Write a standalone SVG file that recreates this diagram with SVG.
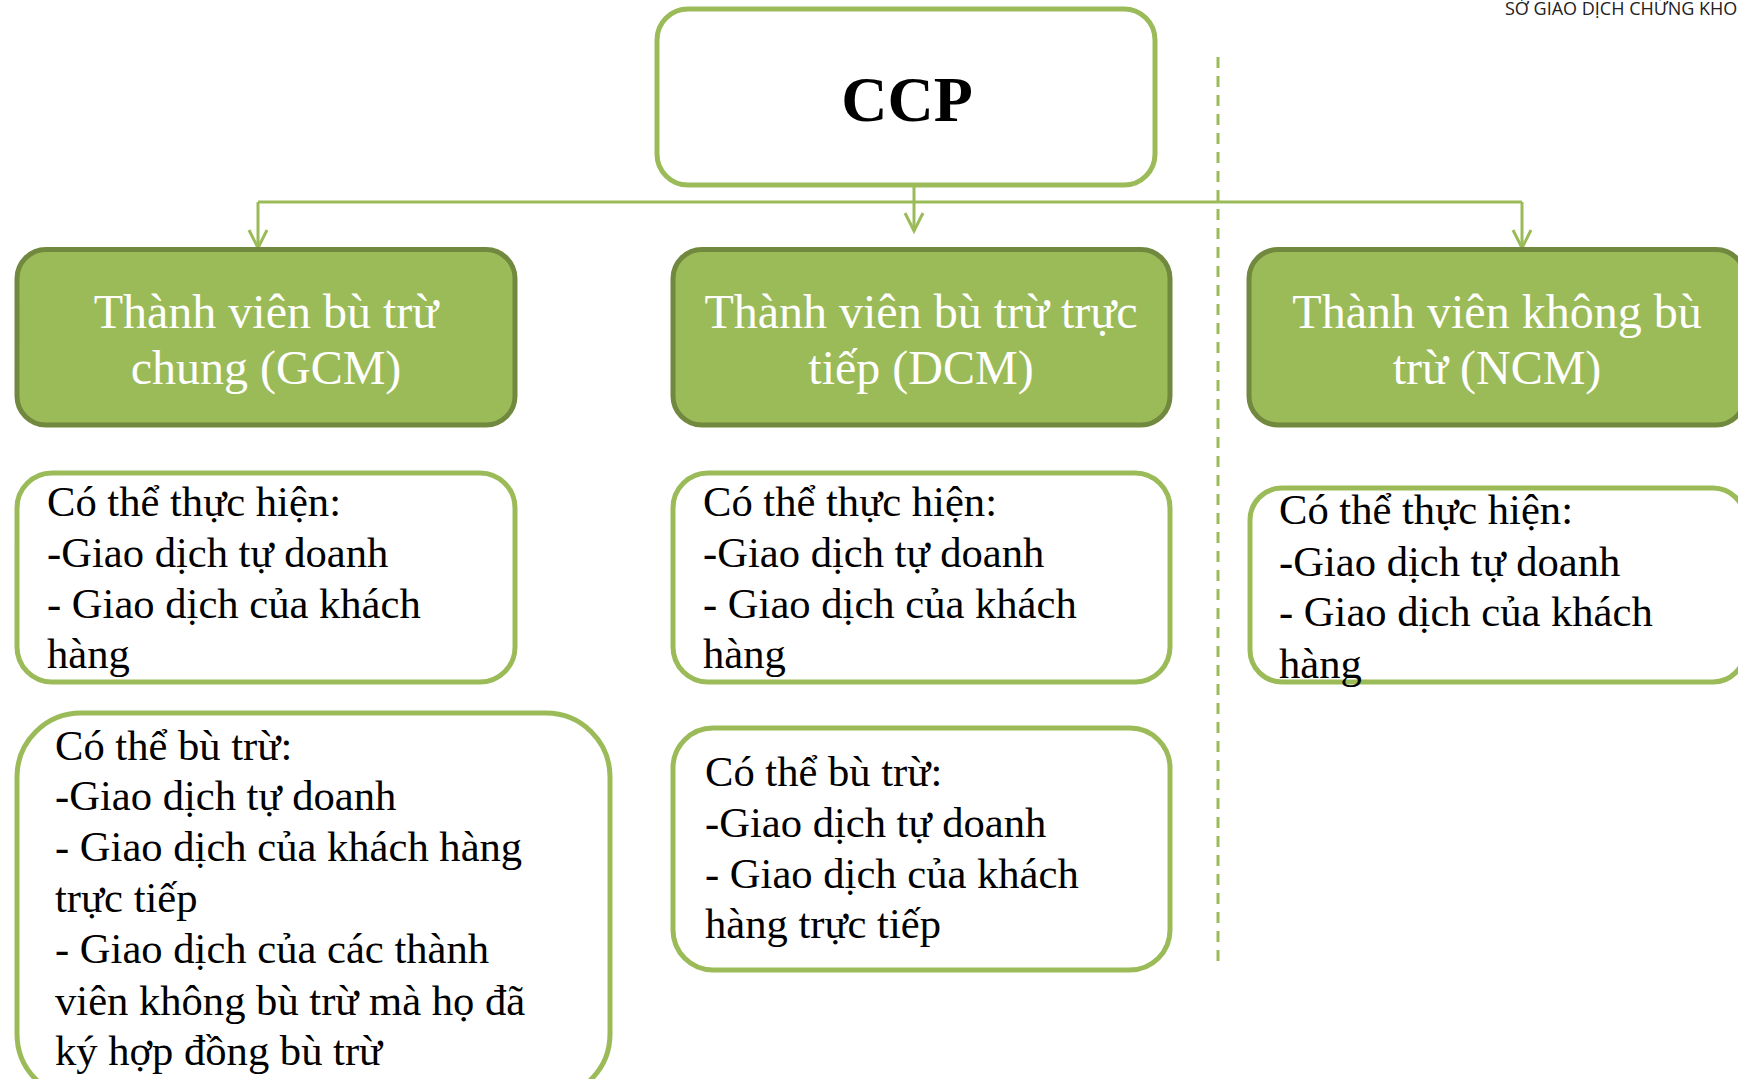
<svg xmlns="http://www.w3.org/2000/svg" width="1738" height="1079" viewBox="0 0 1738 1079">
<style>
  .top { fill: #ffffff; stroke: #9BBB59; stroke-width: 5; }
  .mem { fill: #9BBB59; stroke: #71893F; stroke-width: 5; }
  .info { fill: #ffffff; stroke: #9BBB59; stroke-width: 5; }
  .ccp { font-family: "Liberation Serif", "Times New Roman", serif; font-weight: bold; font-size: 64px; fill: #000000; text-anchor: middle; }
  .mt { font-family: "Liberation Serif", "Times New Roman", serif; font-size: 48px; fill: #ffffff; text-anchor: middle; }
  .it { font-family: "Liberation Serif", "Times New Roman", serif; font-size: 42.6px; fill: #000000; }
  .conn { fill: none; stroke: #9BBB59; stroke-width: 3; }
  .dash { fill: none; stroke: #9BBB59; stroke-width: 3; stroke-dasharray: 11 8; }
  .hdr { font-family: "Open Sans", "Liberation Sans", sans-serif; font-size: 18px; fill: #222222; }
</style>
<defs>
  <marker id="arr" markerUnits="userSpaceOnUse" viewBox="-22 -12 26 24" refX="0" refY="0" markerWidth="26" markerHeight="24" orient="auto" overflow="visible">
    <path d="M-18,-9 L0,0 L-18,9" fill="none" stroke="#9BBB59" stroke-width="3"/>
  </marker>
</defs>
<rect width="1738" height="1079" fill="#ffffff"/>

<text class="hdr" x="1505" y="15">SỞ GIAO DỊCH CHỨNG KHO</text>

<g id="connectors">
  <path class="conn" d="M258,202 H1522"/>
  <path class="conn" d="M914,185 V231" marker-end="url(#arr)"/>
  <path class="conn" d="M258,202 V248" marker-end="url(#arr)"/>
  <path class="conn" d="M1522,202 V248" marker-end="url(#arr)"/>
  <path class="dash" d="M1218,57 V962"/>
</g>

<g id="ccp">
  <rect class="top" x="657" y="9" width="498" height="176" rx="31" ry="31"/>
  <text class="ccp" x="907" y="121">CCP</text>
</g>

<g id="gcm">
  <rect class="mem" x="17" y="249.5" width="498" height="175.5" rx="29" ry="29"/>
  <text class="mt" x="266" y="328">Thành viên bù trừ</text>
  <text class="mt" x="266" y="384">chung (GCM)</text>
</g>

<g id="dcm">
  <rect class="mem" x="673" y="249.5" width="497" height="175.5" rx="29" ry="29"/>
  <text class="mt" x="921" y="328">Thành viên bù trừ trực</text>
  <text class="mt" x="921" y="384">tiếp (DCM)</text>
</g>

<g id="ncm">
  <rect class="mem" x="1249" y="249.5" width="496" height="175.5" rx="29" ry="29"/>
  <text class="mt" x="1497" y="328">Thành viên không bù</text>
  <text class="mt" x="1497" y="384">trừ (NCM)</text>
</g>

<g id="gcm-exec">
  <rect class="info" x="17" y="473" width="498" height="209" rx="35" ry="35"/>
  <text class="it" x="47" y="516">Có thể thực hiện:</text>
  <text class="it" x="47" y="567">-Giao dịch tự doanh</text>
  <text class="it" x="47" y="618">- Giao dịch của khách</text>
  <text class="it" x="47" y="668">hàng</text>
</g>

<g id="dcm-exec">
  <rect class="info" x="673" y="473" width="497" height="209" rx="35" ry="35"/>
  <text class="it" x="703" y="516">Có thể thực hiện:</text>
  <text class="it" x="703" y="567">-Giao dịch tự doanh</text>
  <text class="it" x="703" y="618">- Giao dịch của khách</text>
  <text class="it" x="703" y="668">hàng</text>
</g>

<g id="ncm-exec">
  <rect class="info" x="1250" y="488" width="495" height="194" rx="32" ry="32"/>
  <text class="it" x="1279" y="524">Có thể thực hiện:</text>
  <text class="it" x="1279" y="576">-Giao dịch tự doanh</text>
  <text class="it" x="1279" y="626">- Giao dịch của khách</text>
  <text class="it" x="1279" y="678">hàng</text>
</g>

<g id="gcm-net">
  <rect class="info" x="17" y="713" width="593" height="385" rx="64" ry="64"/>
  <text class="it" x="55" y="760">Có thể bù trừ:</text>
  <text class="it" x="55" y="810">-Giao dịch tự doanh</text>
  <text class="it" x="55" y="861">- Giao dịch của khách hàng</text>
  <text class="it" x="55" y="912">trực tiếp</text>
  <text class="it" x="55" y="963">- Giao dịch của các thành</text>
  <text class="it" x="55" y="1015">viên không bù trừ mà họ đã</text>
  <text class="it" x="55" y="1065">ký hợp đồng bù trừ</text>
</g>

<g id="dcm-net">
  <rect class="info" x="673" y="728" width="497" height="242" rx="40" ry="40"/>
  <text class="it" x="705" y="786">Có thể bù trừ:</text>
  <text class="it" x="705" y="837">-Giao dịch tự doanh</text>
  <text class="it" x="705" y="888">- Giao dịch của khách</text>
  <text class="it" x="705" y="938">hàng trực tiếp</text>
</g>
</svg>
